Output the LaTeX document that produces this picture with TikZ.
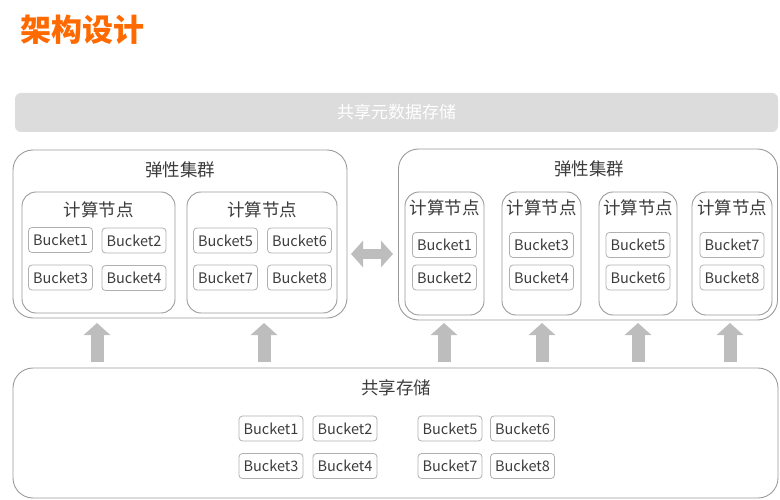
\documentclass[tikz,border=0pt]{standalone}
\usepackage{fontspec}
\setmainfont{Noto Sans CJK SC}
\usetikzlibrary{arrows.meta}
\definecolor{txt}{HTML}{3C3C3C}
\definecolor{bord}{HTML}{9A9A9A}
\definecolor{bbord}{HTML}{B0B0B0}
\definecolor{arr}{HTML}{BDBDBD}
\definecolor{bar}{HTML}{DCDCDC}
\definecolor{orng}{HTML}{FF6A00}
\tikzset{
  cluster/.style={draw=bord, line width=0.9pt, rounded corners=20pt, inner sep=0pt},
  cnode/.style={draw=bord, line width=0.9pt, rounded corners=14pt, inner sep=0pt},
  bucket/.style={draw=bbord, line width=0.8pt, rounded corners=3.5pt, inner sep=0pt,
    minimum width=64pt, minimum height=25pt, text=txt, font=\fontsize{14.5}{16}\selectfont},
  lbl/.style={text=txt, inner sep=0pt, font=\fontsize{17.5}{20}\selectfont},
  uparrow/.style={draw=arr, line width=13pt, -{Triangle[width=26pt,length=12pt]}},
  dblarrow/.style={draw=arr, line width=10pt, {Triangle[width=26pt,length=12pt]}-{Triangle[width=26pt,length=12pt]}}
}
\begin{document}
\begin{tikzpicture}[x=1pt,y=-1pt]
\useasboundingbox (0,0) rectangle (780,500);
% title
\node[text=orng, inner sep=0pt, font=\fontsize{31}{34}\selectfont\bfseries] (title) at (82,30) {架构设计};
% metadata bar
\node[fill=bar, rounded corners=6pt, minimum width=763pt, minimum height=39pt, inner sep=0pt,
  text=white, font=\fontsize{17}{20}\selectfont] (meta) at (396.5,112.5) {共享元数据存储};
% left cluster
\node[cluster, minimum width=334pt, minimum height=168pt] (lc) at (180,234) {};
\node[lbl] (lct) at (180,170) {弹性集群};
\node[cnode, minimum width=153pt, minimum height=121pt] (ln1) at (98.5,252.5) {};
\node[cnode, minimum width=150pt, minimum height=121pt] (ln2) at (262,252.5) {};
\node[lbl] (ln1t) at (98.5,210) {计算节点};
\node[lbl] (ln2t) at (262,210) {计算节点};
\node[bucket] (lb1) at (60.5,240) {Bucket1};
\node[bucket] (lb2) at (134,240.5) {Bucket2};
\node[bucket] (lb3) at (60.5,277.5) {Bucket3};
\node[bucket] (lb4) at (134,278) {Bucket4};
\node[bucket] (lb5) at (225.5,240.5) {Bucket5};
\node[bucket] (lb6) at (299.5,240.5) {Bucket6};
\node[bucket] (lb7) at (225.5,277.5) {Bucket7};
\node[bucket] (lb8) at (299.5,277.5) {Bucket8};
% right cluster
\node[cluster, minimum width=379pt, minimum height=171pt] (rc) at (588,234.5) {};
\node[lbl] (rct) at (589,169) {弹性集群};
\node[cnode, minimum width=79pt, minimum height=123pt] (rn1) at (444.5,253.5) {};
\node[cnode, minimum width=79pt, minimum height=123pt] (rn2) at (541.5,253.5) {};
\node[cnode, minimum width=78pt, minimum height=123pt] (rn3) at (638,253.5) {};
\node[cnode, minimum width=80pt, minimum height=123pt] (rn4) at (732,253.5) {};
\node[lbl] (rn1t) at (444.5,208) {计算节点};
\node[lbl] (rn2t) at (541.5,208) {计算节点};
\node[lbl] (rn3t) at (638,208) {计算节点};
\node[lbl] (rn4t) at (732,208) {计算节点};
\node[bucket] (rb1) at (444.5,245) {Bucket1};
\node[bucket] (rb2) at (444.5,277.5) {Bucket2};
\node[bucket] (rb3) at (541.5,245) {Bucket3};
\node[bucket] (rb4) at (541.5,277.5) {Bucket4};
\node[bucket] (rb5) at (638,245) {Bucket5};
\node[bucket] (rb6) at (638,277.5) {Bucket6};
\node[bucket] (rb7) at (732,245) {Bucket7};
\node[bucket] (rb8) at (732,277.5) {Bucket8};
% double arrow
\coordinate (da1) at (351,254);
\coordinate (da2) at (393,254);
\draw[dblarrow] (da1) -- (da2);
% shared storage
\node[cluster, minimum width=765pt, minimum height=130pt] (st) at (395.5,433) {};
\node[lbl] (stt) at (396,388) {共享存储};
\node[bucket] (sb1) at (271,428.5) {Bucket1};
\node[bucket] (sb2) at (345,428.5) {Bucket2};
\node[bucket] (sb3) at (271,466) {Bucket3};
\node[bucket] (sb4) at (345,466) {Bucket4};
\node[bucket] (sb5) at (450,428.5) {Bucket5};
\node[bucket] (sb6) at (522.5,428.5) {Bucket6};
\node[bucket] (sb7) at (450,466) {Bucket7};
\node[bucket] (sb8) at (522.5,466) {Bucket8};
% up arrows
\foreach \i/\x in {1/97,2/264,3/444,4/542,5/638,6/730}{
  \coordinate (as\i) at (\x,362);
  \coordinate (ae\i) at (\x,323);
  \draw[uparrow] (as\i) -- (ae\i);
}
\end{tikzpicture}
\end{document}
